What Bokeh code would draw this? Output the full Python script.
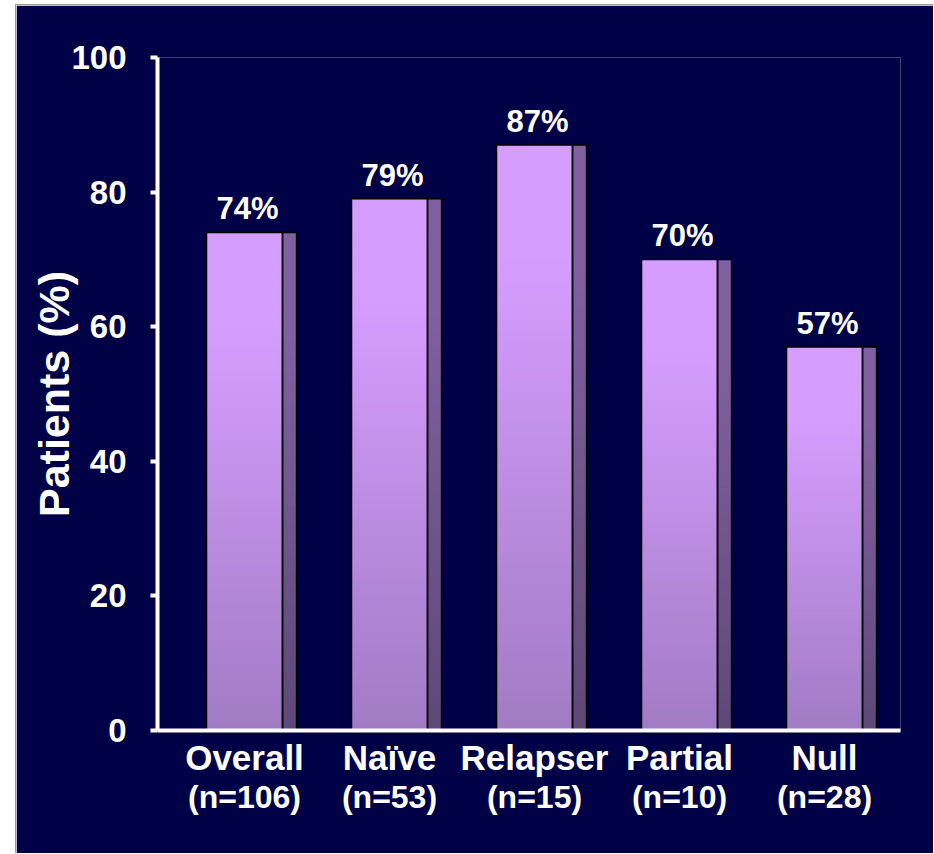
from bokeh.plotting import figure
from bokeh.models import Range1d, FixedTicker, LinearAxis
from bokeh.embed import file_html
from bokeh.resources import INLINE
from bokeh.core.properties import value

# Response rate by patient group
groups = ["Overall", "Naïve", "Relapser", "Partial", "Null"]
group_n = [106, 53, 15, 10, 28]
patients_pct = [74, 79, 87, 70, 57]
y_ticks = [0, 20, 40, 60, 80, 100]

NAVY = "#000046"
FONT = "Liberation Sans"
FRONT_TOP, FRONT_BOTTOM = "#d59dfe", "#a17bc4"
SIDE_TOP, SIDE_BOTTOM = "#8160a2", "#5e4878"

FRONT_HALF = 0.262   # half width of the bar face, in category units
SIDE_W = 0.097       # width of the shaded side face
STRIPS = 60          # slices used to shade each bar from bottom to top


def hex_rgb(c):
    c = c.lstrip("#")
    return [int(c[i:i + 2], 16) for i in (0, 2, 4)]


def mix(c0, c1, t):
    a, b = hex_rgb(c0), hex_rgb(c1)
    return "#%02x%02x%02x" % tuple(round(a[j] + (b[j] - a[j]) * t) for j in range(3))


xs = list(range(len(groups)))

p = figure(
    width=918, height=849,
    x_range=Range1d(-0.6, 4.524), y_range=Range1d(0, 100),
    output_backend="svg", toolbar_location=None,
    min_border_left=141, min_border_right=34,
    min_border_top=52, min_border_bottom=124,
    background_fill_color=NAVY, border_fill_color=NAVY,
)
p.margin = (4, 0, 0, 15)
p.styles = {"border-top": "1px solid #9a9a9a", "border-left": "1px solid #9a9a9a"}
p.outline_line_color = None
p.grid.grid_line_color = None

# shaded faces: each bar split into horizontal slices, each slice reaching
# a little into the next one so no seams show between them
fl, fr, sl, sr, bot, top, fcol, scol = [], [], [], [], [], [], [], []
for x, v in zip(xs, patients_pct):
    for k in range(STRIPS):
        t = min(1.0, ((k + 0.5) / STRIPS) / 0.8)
        fl.append(x - FRONT_HALF)
        fr.append(x + FRONT_HALF)
        sl.append(x + FRONT_HALF)
        sr.append(x + FRONT_HALF + SIDE_W)
        bot.append(v * k / STRIPS)
        top.append(min(v, v * (k + 2) / STRIPS))
        fcol.append(mix(FRONT_BOTTOM, FRONT_TOP, t))
        scol.append(mix(SIDE_BOTTOM, SIDE_TOP, t))

p.quad(left=fl, right=fr, bottom=bot, top=top, fill_color=fcol, line_color=None)
p.quad(left=sl, right=sr, bottom=bot, top=top, fill_color=scol, line_color=None)

# bar outlines
p.quad(left=[x - FRONT_HALF for x in xs], right=[x + FRONT_HALF for x in xs],
       bottom=0, top=patients_pct, fill_color=None, line_color="black", line_width=1.5)
p.quad(left=[x + FRONT_HALF for x in xs], right=[x + FRONT_HALF + SIDE_W for x in xs],
       bottom=0, top=patients_pct, fill_color=None, line_color="black", line_width=1.5)

# value labels above bars
p.text(x=xs, y=patients_pct, text=[f"{v}%" for v in patients_pct],
       text_align="center", text_baseline="bottom", x_offset=3, y_offset=-6,
       text_color="white", text_font=value(FONT), text_font_style="bold",
       text_font_size="31px")

# y axis
ya = p.yaxis[0]
ya.ticker = FixedTicker(ticks=y_ticks)
ya.axis_line_color = "white"
ya.axis_line_width = 4
ya.major_tick_line_color = "white"
ya.major_tick_line_width = 4
ya.major_tick_out = 7
ya.major_tick_in = 0
ya.minor_tick_line_color = None
ya.major_label_text_color = "white"
ya.major_label_text_font = FONT
ya.major_label_text_font_style = "bold"
ya.major_label_text_font_size = "33px"
ya.major_label_standoff = 24
ya.axis_label = "Patients (%)"
ya.axis_label_text_color = "white"
ya.axis_label_text_font = FONT
ya.axis_label_text_font_style = "bold"
ya.axis_label_text_font_size = "43px"
ya.axis_label_standoff = -10


def style_x(axis, size, standoff):
    axis.ticker = FixedTicker(ticks=xs)
    axis.major_tick_line_color = None
    axis.minor_tick_line_color = None
    axis.major_tick_out = 0
    axis.major_tick_in = 0
    axis.major_label_text_color = "white"
    axis.major_label_text_font = FONT
    axis.major_label_text_font_style = "bold"
    axis.major_label_text_font_size = size
    axis.major_label_standoff = standoff


# x axis: group names
xa = p.xaxis[0]
style_x(xa, "35px", 7)
xa.major_label_overrides = {x: g for x, g in zip(xs, groups)}
xa.axis_line_color = "white"
xa.axis_line_width = 4

# second row: group sizes
xn = LinearAxis()
style_x(xn, "32px", -1)
xn.major_label_overrides = {x: f"(n={n})" for x, n in zip(xs, group_n)}
xn.axis_line_color = None
p.add_layout(xn, "below")

open("out.html", "w").write(file_html(p, INLINE))
